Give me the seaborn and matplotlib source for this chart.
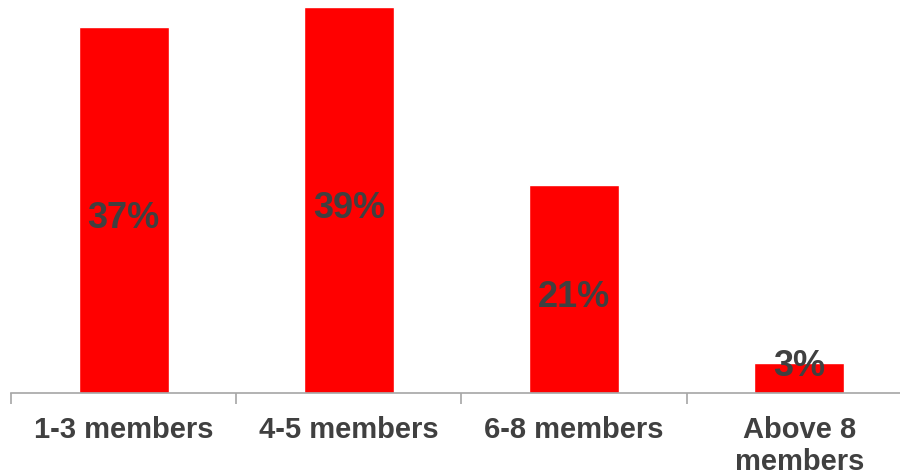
import matplotlib
matplotlib.use("Agg")
import matplotlib.pyplot as plt
import seaborn as sns
import numpy as np
import pandas as pd

categories = ["1-3 members", "4-5 members", "6-8 members", "Above 8\nmembers"]
values = [37, 39, 21, 3]
labels = ["37%", "39%", "21%", "3%"]

sns.set_style("white")
plt.rcParams['font.family'] = ['Liberation Sans', 'DejaVu Sans']

fig = plt.figure(figsize=(9, 4.77), dpi=100)
ax = fig.add_axes([11/900, 83/477, 901/900, 394/477])

df = pd.DataFrame({"cat": categories, "val": values})
sns.barplot(data=df, x="cat", y="val", color="#ff0000", saturation=1, width=0.4, ax=ax)

ax.set_xlim(-0.5, 3.5)
ax.set_ylim(0, 394/9.9)
ax.set_xlabel("")
ax.set_ylabel("")
ax.set_yticks([])
for s in ["top", "right", "left"]:
    ax.spines[s].set_visible(False)
ax.spines["bottom"].set_color("#a6a6a6")
ax.spines["bottom"].set_linewidth(1.2)

ax.set_xticks(range(len(categories)))
ax.set_xticklabels(categories, fontsize=21, fontweight="bold", color="#404040", linespacing=1.22)
ax.tick_params(axis="x", which="major", length=0, pad=15.5)
ax.set_xticks(np.arange(-0.5, len(categories), 1.0), minor=True)
ax.tick_params(axis="x", which="minor", length=8, width=1.2, color="#a6a6a6", bottom=True)

for i, (v, lab) in enumerate(zip(values, labels)):
    ax.text(i, max(v / 2 - 0.75, 2.8), lab, ha="center", va="center", fontsize=26,
            fontweight="bold", color="#404040")

fig.savefig("out.png", dpi=100)
